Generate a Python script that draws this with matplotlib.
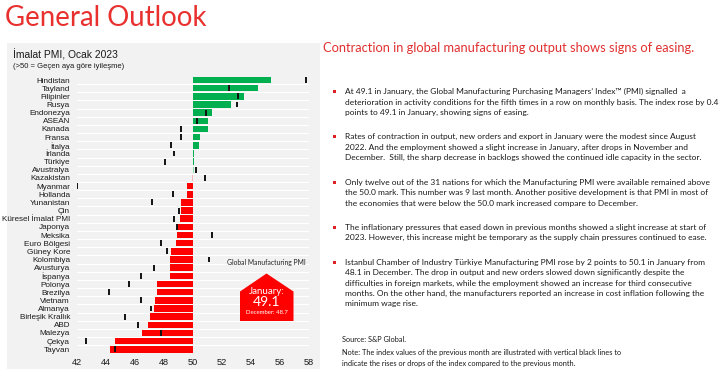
import matplotlib
matplotlib.use("Agg")
import matplotlib.pyplot as plt
from matplotlib.patches import Rectangle, Polygon

W, H = 720, 374

countries = ["Hindistan", "Tayland", "Filipinler", "Rusya", "Endonezya", "ASEAN", "Kanada",
             "Fransa", "İtalya", "İrlanda", "Türkiye", "Avustralya", "Kazakistan", "Myanmar",
             "Hollanda", "Yunanistan", "Çin", "Küresel İmalat PMI", "Japonya", "Meksika",
             "Euro Bölgesi", "Güney Kore", "Kolombiya", "Avusturya", "İspanya", "Polonya",
             "Brezilya", "Vietnam", "Almanya", "Birleşik Krallık", "ABD", "Malezya", "Çekya", "Tayvan"]
jan = [55.4, 54.5, 53.5, 52.6, 51.3, 51.0, 51.0, 50.5, 50.4, 50.1, 50.1, 50.0, 50.0, 49.6,
       49.6, 49.2, 49.2, 49.1, 48.9, 48.9, 48.8, 48.5, 48.4, 48.4, 48.4, 47.5, 47.5, 47.4,
       47.3, 47.0, 46.9, 46.5, 44.6, 44.3]
dec = [57.8, 52.5, 53.1, 53.0, 50.9, 50.3, 49.2, 49.2, 48.5, 48.7, 48.1, 50.2, 50.8, 42.0,
       48.6, 47.2, 49.0, 48.7, 48.9, 51.3, 47.8, 48.2, 51.1, 47.3, 46.4, 45.6, 44.2, 46.4,
       47.1, 45.3, 46.2, 47.8, 42.6, 44.6]
neutral_colors = {"Avustralya": "#8fdcae", "Kazakistan": "#f4b8b8"}
xticks = [42, 44, 46, 48, 50, 52, 54, 56, 58]

global_jan = 49.1
global_dec = 48.7

fig = plt.figure(figsize=(W / 100, H / 100), dpi=100)
fig.patch.set_facecolor("white")
renderer = fig.canvas.get_renderer()


def fx(x):
    return x / W


def fy(y):
    return 1 - y / H


def fit(t, target_px):
    w = t.get_window_extent(renderer=renderer).width
    t.set_fontsize(t.get_fontsize() * target_px / w)
    return t.get_fontsize()


SLIDE_FONT = ["Lato", "DejaVu Sans"]
CHART_FONT = ["Liberation Sans", "DejaVu Sans"]
TXT = "#1a1a1a"

# gray panel behind chart
fig.add_artist(Rectangle((fx(7), fy(369)), fx(313), (369 - 43) / H,
                         transform=fig.transFigure, facecolor="#f2f2f2", edgecolor="none", zorder=0))

# chart axes
n = len(countries)
row_top, row_bot = 80.0, 349.3
step = (row_bot - row_top) / (n - 1)
ax_top = row_top - step / 2
ax_bot = row_bot + step / 2
ax = fig.add_axes([fx(77), fy(ax_bot), fx(309 - 77), (ax_bot - ax_top) / H])
ax.set_facecolor("none")
ax.set_xlim(42, 58)
ax.set_ylim(n - 0.5, -0.5)
ypos = list(range(n))
for i in range(n):
    ax.axhline(i + 0.5, color="white", lw=0.8, zorder=0.5)
for i, (c, v, d) in enumerate(zip(countries, jan, dec)):
    if c in neutral_colors:
        col = neutral_colors[c]
        width = 0.07 if c == "Avustralya" else -0.07
    else:
        col = "#00b050" if v > 50 else "#ff0000"
        width = v - 50
    ax.barh(i, width, left=50, height=0.8, color=col, edgecolor="none", zorder=2)
    ax.plot([d, d], [i - 0.36, i + 0.36], color="#111111", lw=1.4, solid_capstyle="butt", zorder=3)
ax.set_yticks(ypos)
ax.set_yticklabels(countries, fontsize=5.9, family=CHART_FONT, color=TXT)
ax.set_xticks(xticks)
ax.set_xticklabels([str(t) for t in xticks], fontsize=6.6, family=CHART_FONT, color=TXT)
ax.tick_params(axis="y", length=0, pad=5)
ax.tick_params(axis="x", length=0, pad=3)
for s in ax.spines.values():
    s.set_visible(False)

# chart titles
t = fig.text(fx(13), fy(55), "İmalat PMI, Ocak 2023", fontsize=8.0, family=CHART_FONT,
             color=TXT, va="center", ha="left")
fit(t, 104)
t = fig.text(fx(13), fy(66), "(>50 = Geçen aya göre iyileşme)", fontsize=5.6, family=CHART_FONT,
             color=TXT, va="center", ha="left")
fit(t, 111)

# callout
t = fig.text(fx(266), fy(263), "Global Manufacturing PMI", fontsize=5.6, family=SLIDE_FONT,
             color="#222222", ha="center", va="center")
fit(t, 78)
pts = [(240, 291.5), (266.5, 273.5), (293.5, 291.5), (293.5, 321), (240, 321)]
fig.add_artist(Polygon([(fx(x), fy(y)) for x, y in pts], closed=True, transform=fig.transFigure,
                       facecolor="#ff0000", edgecolor="none", zorder=3))
fig.text(fx(266.5), fy(292), "January:", fontsize=7, family=SLIDE_FONT, color="white",
         ha="center", va="center", zorder=4)
fig.text(fx(266.5), fy(302.5), f"{global_jan}", fontsize=10, family=SLIDE_FONT, color="white",
         ha="center", va="center", zorder=4)
fig.text(fx(266.5), fy(312.5), f"December: {global_dec}", fontsize=4.3, family=SLIDE_FONT,
         color="white", ha="center", va="center", zorder=4)

# slide title
t = fig.text(fx(5), fy(18), "General Outlook", fontsize=20, family=SLIDE_FONT, color="#e8312f",
             ha="left", va="center")
fit(t, 202)
t = fig.text(fx(323), fy(48), "Contraction in global manufacturing output shows signs of easing.",
             fontsize=10, family=SLIDE_FONT, color="#e0302f", ha="left", va="center")
fit(t, 374)

bullets = [
    (91.7, ["At 49.1 in January, the Global Manufacturing Purchasing Managers\u2019 Index\u2122 (PMI) signalled  a",
            "deterioration in activity conditions for the fifth times in a row on monthly basis. The index rose by 0.4",
            "points to 49.1 in January, showing signs of easing."]),
    (136.7, ["Rates of contraction in output, new orders and export in January were the modest since August",
             "2022. And the employment showed a slight increase in January, after drops in November and",
             "December.  Still, the sharp decrease in backlogs showed the continued idle capacity in the sector."]),
    (182.3, ["Only twelve out of the 31 nations for which the Manufacturing PMI were available remained above",
             "the 50.0 mark. This number was 9 last month. Another positive development is that PMI in most of",
             "the economies that were below the 50.0 mark increased compare to December."]),
    (227.3, ["The inflationary pressures that eased down in previous months showed a slight increase at start of",
             "2023. However, this increase might be temporary as the supply chain pressures continued to ease."]),
    (262.3, ["Istanbul Chamber of Industry Türkiye Manufacturing PMI rose by 2 points to 50.1 in January from",
             "48.1 in December. The drop in output and new orders slowed down significantly despite the",
             "difficulties in foreign markets, while the employment showed an increase for third consecutive",
             "months. On the other hand, the manufacturers reported an increase in cost inflation following the",
             "minimum wage rise."]),
]
probe = fig.text(0, 0, bullets[0][1][1], fontsize=6.3, family=SLIDE_FONT)
bsize = fit(probe, 373)
probe.remove()
line_h = 10.4
for y0, lines in bullets:
    fig.add_artist(Rectangle((fx(333), fy(y0 + 1.5)), fx(3), 3 / H, transform=fig.transFigure,
                             facecolor="#e02020", edgecolor="none"))
    for k, ln in enumerate(lines):
        fig.text(fx(345), fy(y0 + k * line_h), ln, fontsize=bsize, family=SLIDE_FONT,
                 color=TXT, ha="left", va="center")

t1 = fig.text(fx(342), fy(352.7), "Note: The index values of the previous month are illustrated with vertical black lines to",
              fontsize=5.3, family=SLIDE_FONT, color=TXT, ha="left", va="center")
nsize = fit(t1, 280)
fig.text(fx(342), fy(363.3), "indicate the rises or drops of the index compared to the previous month.",
         fontsize=nsize, family=SLIDE_FONT, color=TXT, ha="left", va="center")
fig.text(fx(342), fy(339.5), "Source: S&P Global.", fontsize=nsize, family=SLIDE_FONT,
         color=TXT, ha="left", va="center")

fig.savefig("out.png", dpi=100, facecolor="white")
